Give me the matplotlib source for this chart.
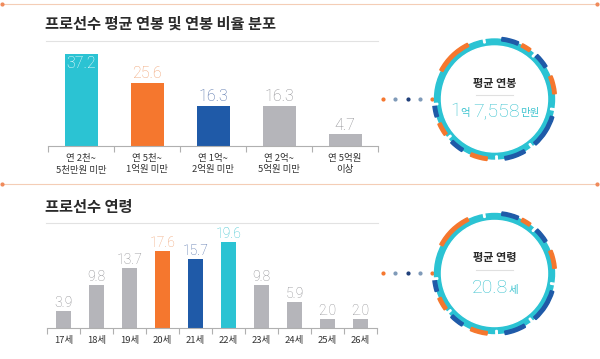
import matplotlib
matplotlib.use('Agg')
import matplotlib.pyplot as plt
from matplotlib.patches import Wedge, Circle

plt.rcParams['font.family'] = ['Noto Sans CJK KR', 'DejaVu Sans']
NUM_FONT = ['Roboto', 'Noto Sans CJK KR']

# 연봉 분포
salary_labels = ['연 2천~\n5천만원 미만', '연 5천~\n1억원 미만', '연 1억~\n2억원 미만',
                 '연 2억~\n5억원 미만', '연 5억원\n이상']
salary_values = [37.2, 25.6, 16.3, 16.3, 4.7]
salary_colors = ['#2bc3d3', '#f5772e', '#1f5aa8', '#b5b5ba', '#b5b5ba']
salary_text_colors = ['white', '#f0a273', '#4a6aa6', '#8c8c90', '#8c8c90']

# 연령 분포
age_labels = ['17세', '18세', '19세', '20세', '21세', '22세', '23세', '24세', '25세', '26세']
age_values = [3.9, 9.8, 13.7, 17.6, 15.7, 19.6, 9.8, 5.9, 2.0, 2.0]
age_colors = ['#b5b5ba'] * 3 + ['#f5772e', '#1f5aa8', '#2bc3d3'] + ['#b5b5ba'] * 4
age_text_colors = ['#8c8c90'] * 3 + ['#f0a273', '#4a6aa6', '#3cc3cf'] + ['#8c8c90'] * 4

W, H = 600, 359
fig = plt.figure(figsize=(W / 100, H / 100), dpi=100)
fig.patch.set_facecolor('white')

bg = fig.add_axes([0, 0, 1, 1])
bg.set_xlim(0, W)
bg.set_ylim(H, 0)
bg.axis('off')


def px_axes(x0, y0, x1, y1):
    # 픽셀 좌표(위에서부터)로 axes 생성
    return fig.add_axes([x0 / W, (H - y1) / H, (x1 - x0) / W, (y1 - y0) / H])


def bar_panel(ax, labels, values, colors, tcolors, width, ymax, fsize, lsize, pad):
    n = len(values)
    x = range(n)
    ax.bar(x, values, width=width, color=colors, zorder=2)
    ax.set_xlim(-0.5, n - 0.5)
    ax.set_ylim(0, ymax)
    for i, v in enumerate(values):
        if tcolors[i] == 'white':
            ax.text(i, v - ymax * 0.02, f'{v:.1f}', ha='center', va='top',
                    fontsize=fsize, color='white', family=NUM_FONT,
                    fontweight='light', fontstretch='condensed')
        else:
            ax.text(i, v + ymax * 0.015, f'{v:.1f}', ha='center', va='bottom',
                    fontsize=fsize, color=tcolors[i], family=NUM_FONT,
                    fontweight='light', fontstretch='condensed')
    ax.set_xticks(list(x))
    ax.set_xticklabels(labels, fontsize=lsize, color='#333333', linespacing=1.3)
    ax.set_xticks([i - 0.5 for i in range(n + 1)], minor=True)
    ax.tick_params(axis='x', which='major', length=0, pad=pad)
    ax.tick_params(axis='x', which='minor', length=4, color='#b0b0b0', width=0.8)
    ax.set_yticks([])
    for s in ['top', 'right', 'left']:
        ax.spines[s].set_visible(False)
    ax.spines['bottom'].set_color('#b0b0b0')
    ax.spines['bottom'].set_linewidth(0.8)
    ax.patch.set_alpha(0)


ax1 = px_axes(48, 47, 378, 146)
bar_panel(ax1, salary_labels, salary_values, salary_colors, salary_text_colors,
          0.5, 40, 11.5, 6.8, 6)
ax2 = px_axes(47, 232, 377, 328)
bar_panel(ax2, age_labels, age_values, age_colors, age_text_colors,
          0.45, 22, 10, 6.8, 6)

# 구분선
for yy in (4, 184):
    bg.plot([2, 597], [yy, yy], color='#f4cdb6', lw=0.8)
    bg.plot([2, 597], [yy, yy], 'o', color='#f08a5a', ms=2)

# 제목
bg.text(45, 24, '프로선수 평균 연봉 및 연봉 비율 분포', fontsize=11, fontweight='bold',
        color='#2b2b2b', va='center', ha='left')
bg.text(45, 207, '프로선수 연령', fontsize=11, fontweight='bold',
        color='#2b2b2b', va='center', ha='left')
bg.plot([46, 378], [41, 41], color='#e2e2e2', lw=0.8)
bg.plot([46, 378], [223, 223], color='#e2e2e2', lw=0.8)

# 링 장식
dash_segments = [(116, 152, '#f5772e'), (67, 83, '#1f5aa8'), (54, 63, '#f5772e'),
                 (32, 46, '#1f5aa8'), (5, 22, '#f5772e'), (-48, -17, '#1f5aa8'),
                 (-80, -60, '#1f5aa8'), (-113, -97, '#f5772e'), (-135, -122, '#1f5aa8'),
                 (-156, -144, '#f5772e'), (-175, -163, '#1f5aa8')]
gap_angles = [100, 48, -10, -52, -88, -140, 185]


def ring(cx, cy, r=61):
    bg.add_patch(Circle((cx, cy), r - 1, color='#2bc3d3', zorder=3))
    bg.add_patch(Circle((cx, cy), r - 8, color='white', zorder=5))
    for a0, a1, c in dash_segments:
        bg.add_patch(Wedge((cx, cy), r + 1, -a1, -a0, width=3.5, color=c, zorder=4))
    for g in gap_angles:
        bg.add_patch(Wedge((cx, cy), r + 2, -g - 0.7, -g + 0.7, width=6,
                           color='white', zorder=4))


def dots(y):
    cols = ['#f5772e', '#7f9ab8', '#1f3f7a', '#7f9ab8', '#f5772e']
    for i, c in enumerate(cols):
        bg.plot(383 + i * 12.3, y, 'o', color=c, ms=2, zorder=2)


def runs_text(x, y, runs):
    renderer = fig.canvas.get_renderer()
    items = []
    total = 0
    for s, size, color, fam in runs:
        t = bg.text(0, y, s, fontsize=size, color=color, family=fam,
                    fontweight='light', fontstretch='condensed',
                    ha='left', va='baseline', zorder=6)
        w = t.get_window_extent(renderer).width
        items.append((t, w))
        total += w
    cur = x - total / 2
    for t, w in items:
        t.set_x(cur)
        cur += w


KR = ['Noto Sans CJK KR', 'DejaVu Sans']

ring(494.5, 99)
dots(99)
bg.text(494.5, 84, '평균 연봉', fontsize=8, fontweight='bold', color='#2b2b2b',
        ha='center', va='center', zorder=6)
bg.plot([476, 513], [95, 95], color='#e0e0e0', lw=0.8, zorder=6)
runs_text(495, 116, [('1', 14, '#3cc3cf', NUM_FONT), ('억 ', 7.5, '#3cc3cf', KR),
                     ('7,558', 14, '#3cc3cf', NUM_FONT), ('만원', 7.5, '#3cc3cf', KR)])

ring(494.5, 273.5)
dots(273)
bg.text(494.5, 258, '평균 연령', fontsize=8, fontweight='bold', color='#2b2b2b',
        ha='center', va='center', zorder=6)
bg.plot([476, 513], [270, 270], color='#e0e0e0', lw=0.8, zorder=6)
runs_text(495, 293, [('20.8', 14, '#3cc3cf', NUM_FONT), ('세', 7.5, '#3cc3cf', KR)])

fig.savefig('out.png', dpi=100)
